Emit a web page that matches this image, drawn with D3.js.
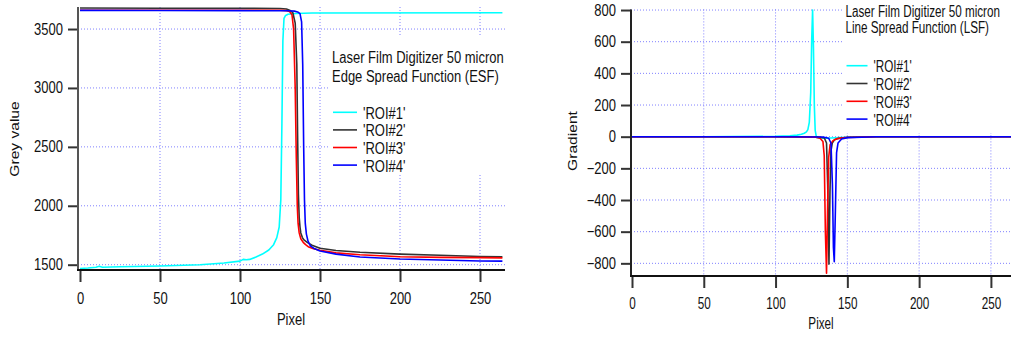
<!DOCTYPE html>
<html>
<head>
<meta charset="utf-8">
<script src="https://cdn.jsdelivr.net/npm/d3@7"></script>
<style>
body { margin: 0; background: #fff; }
svg text { font-family: "Liberation Sans", Arial, sans-serif; font-size: 13px; fill: #111; }
</style>
</head>
<body>
<svg id="chart" width="1011" height="337"></svg>
<script>
// ---- data ----
const seriesNames = ["'ROI#1'", "'ROI#2'", "'ROI#3'", "'ROI#4'"];
const seriesColors = ["#00ffff", "#333333", "#ff0000", "#0000ff"];
const pixelTicks = [0, 50, 100, 150, 200, 250];
const greyTicks = [1500, 2000, 2500, 3000, 3500];
const gradTicks = [-800, -600, -400, -200, 0, 200, 400, 600, 800];

// ESF (grey value vs pixel)
const esfPx1 = [0, 5, 10, 12, 14, 25, 50, 75, 90, 100, 102, 104, 106, 110, 114, 118, 121, 123, 124.5, 125.5, 126.2, 126.8, 127.5, 128.5, 130, 135, 145, 264];
const esfVal1 = [1468, 1472, 1478, 1487, 1478, 1482, 1489, 1500, 1515, 1530, 1545, 1542, 1545, 1565, 1590, 1625, 1670, 1730, 1820, 2050, 2700, 3400, 3590, 3615, 3625, 3632, 3636, 3638];
const esfPx2 = [0, 50, 100, 125, 129, 131, 133, 134.5, 135.5, 136, 136.5, 137, 137.5, 138, 139, 140, 142, 145, 150, 160, 175, 200, 225, 250, 264];
const esfVal2 = [3678, 3677, 3676, 3674, 3670, 3660, 3640, 3550, 3200, 2600, 2100, 1900, 1820, 1770, 1730, 1710, 1690, 1665, 1640, 1620, 1605, 1590, 1580, 1570, 1568];
const esfPx3 = [0, 50, 100, 125, 129, 131, 132.5, 133.5, 134.5, 135.2, 135.8, 136.3, 137, 138, 139.5, 141, 143, 146, 150, 160, 175, 200, 225, 250, 264];
const esfVal3 = [3660, 3660, 3660, 3660, 3656, 3648, 3620, 3500, 3000, 2400, 2000, 1850, 1770, 1720, 1690, 1670, 1650, 1635, 1622, 1600, 1585, 1568, 1562, 1560, 1558];
const esfPx4 = [0, 50, 100, 130, 134, 136, 137.5, 138.5, 139.2, 139.8, 140.3, 140.8, 141.5, 142.5, 144, 146, 150, 160, 175, 200, 225, 250, 264];
const esfVal4 = [3658, 3657, 3656, 3655, 3652, 3645, 3630, 3560, 3200, 2500, 2050, 1850, 1760, 1700, 1660, 1640, 1616, 1590, 1565, 1548, 1540, 1531, 1530];

// LSF (gradient vs pixel)
const lsfPx1 = [0, 50, 100, 110, 115, 118, 120, 121.5, 122.5, 123.5, 124.5, 125.2, 125.8, 126.4, 127, 127.6, 128.5, 130, 135, 145, 160, 264];
const lsfVal1 = [0, 0, 2, 5, 10, 15, 22, 30, 45, 90, 280, 620, 800, 560, 200, 40, -5, -8, -10, -5, -2, 0];
const lsfPx2 = [0, 100, 130, 134, 135.5, 136.3, 137.2, 137.9, 138.6, 139.5, 141, 144, 150, 170, 264];
const lsfVal2 = [0, 0, -2, -8, -40, -300, -805, -350, -90, -40, -20, -10, -4, 0, 0];
const lsfPx3 = [0, 100, 128, 131, 133, 133.9, 134.7, 135.5, 136.3, 137, 138, 140, 143, 150, 170, 264];
const lsfVal3 = [0, 0, -3, -10, -30, -120, -600, -863, -420, -130, -50, -25, -12, -5, 0, 0];
const lsfPx4 = [0, 100, 133, 137, 138.6, 139.6, 140.3, 140.9, 141.6, 142.5, 143.5, 146, 150, 170, 264];
const lsfVal4 = [0, 0, -2, -10, -40, -300, -700, -790, -500, -100, -40, -15, -6, 0, 0];

const svg = d3.select("#chart");
const gridColor = "#8080ff";

// text is drawn taller than wide, like the original
function label(x, y, str, anchor, rotate, sx) {
    const s = rotate ? "scale(1,1.2)" : "scale(" + (sx || 1) + ",1.2)";
    svg.append("text")
        .attr("transform", "translate(" + x + "," + y + ") " + s + (rotate ? " rotate(-90)" : ""))
        .attr("text-anchor", anchor || "start")
        .text(str);
}

function panel(opt) {
    const x = d3.scaleLinear().domain(opt.xDomain).range(opt.xRange);
    const y = d3.scaleLinear().domain(opt.yDomain).range(opt.yRange);
    const g = svg.append("g");
    const sx = opt.textScaleX;

    // grid
    g.selectAll(".vgrid").data(pixelTicks.filter(d => d > 0)).enter()
        .append("line")
        .attr("x1", d => x(d)).attr("x2", d => x(d))
        .attr("y1", opt.yRange[1]).attr("y2", opt.axisY)
        .attr("stroke", gridColor).attr("stroke-dasharray", "1,2");
    g.selectAll(".hgrid").data(opt.yTicks).enter()
        .append("line")
        .attr("x1", opt.axisX).attr("x2", opt.xEnd)
        .attr("y1", d => y(d)).attr("y2", d => y(d))
        .attr("stroke", gridColor).attr("stroke-dasharray", "1,2");

    // white legend area hides the grid behind it
    g.append("rect")
        .attr("x", opt.legend.x - 2).attr("y", opt.legend.top)
        .attr("width", opt.xEnd - opt.legend.x + 4).attr("height", opt.legend.bottom - opt.legend.top)
        .attr("fill", "#fff");

    // lines
    const line = d3.line().x(d => x(d[0])).y(d => y(d[1]));
    opt.series.forEach(function(s, i) {
        g.append("path")
            .datum(d3.zip(s[0], s[1]))
            .attr("fill", "none")
            .attr("stroke", seriesColors[i])
            .attr("stroke-width", 1.6)
            .attr("stroke-linejoin", "round")
            .attr("d", line);
    });

    // axes
    const xAxis = g.append("g")
        .attr("transform", "translate(0," + (opt.axisY + 1) + ")")
        .call(d3.axisBottom(x).tickValues(pixelTicks).tickSize(11).tickFormat(d3.format("d")));
    xAxis.select(".domain").remove();
    xAxis.selectAll("line").attr("stroke", "#333").attr("stroke-width", 2);
    xAxis.selectAll("text").attr("y", null).attr("dy", null)
        .attr("transform", "translate(0," + opt.xLabelDy + ") scale(" + sx + ",1.2)");

    const yAxis = g.append("g")
        .attr("transform", "translate(" + opt.axisX + ",0)")
        .call(d3.axisLeft(y).tickValues(opt.yTicks).tickSize(10).tickPadding(5).tickFormat(d3.format("d")));
    yAxis.select(".domain").remove();
    yAxis.selectAll("line").attr("stroke", "#333").attr("stroke-width", 2);
    yAxis.selectAll("text").attr("transform", "scale(1,1.2)");

    g.append("line")
        .attr("x1", opt.axisX).attr("x2", opt.axisX)
        .attr("y1", opt.yRange[1]).attr("y2", opt.axisY + 1)
        .attr("stroke", opt.yAxisColor).attr("stroke-width", 2);
    g.append("line")
        .attr("x1", opt.axisX - 1).attr("x2", opt.xEnd)
        .attr("y1", opt.axisY).attr("y2", opt.axisY)
        .attr("stroke", "#111").attr("stroke-width", 2);

    // legend
    label(opt.legend.x, opt.legend.t1, opt.legend.title1, "start", false, sx);
    label(opt.legend.x, opt.legend.t2, opt.legend.title2, "start", false, sx);
    seriesNames.forEach(function(n, i) {
        const yy = opt.legend.first + i * opt.legend.step;
        g.append("line")
            .attr("x1", opt.legend.x + 1).attr("x2", opt.legend.x + opt.legend.sample)
            .attr("y1", yy).attr("y2", yy)
            .attr("stroke", seriesColors[i]).attr("stroke-width", 1.6);
        label(opt.legend.x + opt.legend.sample + 6, yy + 6.5, n, "start", false, sx);
    });

    label(opt.xTitle[0], opt.xTitle[1], "Pixel", "middle", false, sx);
    label(opt.yTitle[0], opt.yTitle[1], opt.yTitle[2], "middle", true);
}

panel({
    xDomain: [0, 265], xRange: [80, 504],
    yDomain: [1455, 3687], yRange: [270, 7],
    axisX: 78, axisY: 270, xEnd: 505, xLabelDy: 33, textScaleX: 1,
    yTicks: greyTicks, yAxisColor: "#555",
    series: [[esfPx1, esfVal1], [esfPx2, esfVal2], [esfPx3, esfVal3], [esfPx4, esfVal4]],
    legend: { x: 332, top: 35, bottom: 175, t1: 63, t2: 81.5, sample: 25,
              title1: "Laser Film Digitizer 50 micron", title2: "Edge Spread Function (ESF)",
              first: 112.3, step: 17.6 },
    xTitle: [291, 325], yTitle: [19, 139, "Grey value"]
});

panel({
    xDomain: [0, 264], xRange: [632, 1011],
    yDomain: [-880, 804], yRange: [276, 9.4],
    axisX: 631, axisY: 276, xEnd: 1011, xLabelDy: 32.3, textScaleX: 0.9,
    yTicks: gradTicks, yAxisColor: "#222",
    series: [[lsfPx1, lsfVal1], [lsfPx2, lsfVal2], [lsfPx3, lsfVal3], [lsfPx4, lsfVal4]],
    legend: { x: 845.5, top: 0, bottom: 133, t1: 16.7, t2: 33.3, sample: 22,
              title1: "Laser Film Digitizer 50 micron", title2: "Line Spread Function (LSF)",
              first: 65.7, step: 17.8 },
    xTitle: [821, 329], yTitle: [577, 141, "Gradient"]
});
</script>
</body>
</html>
